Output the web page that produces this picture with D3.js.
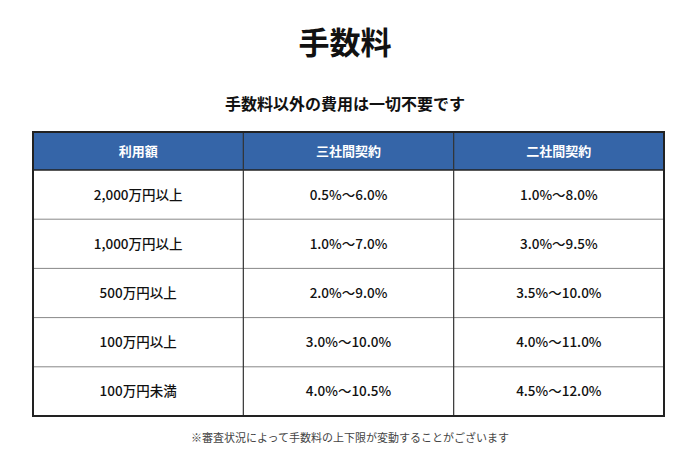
<!DOCTYPE html><html><head><meta charset="utf-8"><script src="https://cdn.jsdelivr.net/npm/d3@7"></script>
<style>body{margin:0;background:#fff}</style></head><body><svg id="c" width="690" height="471"></svg>
<script>
const headers=["利用額","三社間契約","二社間契約"];
const categories=["2,000万円以上","1,000万円以上","500万円以上","100万円以上","100万円未満"];
const threeParty=["0.5%〜6.0%","1.0%〜7.0%","2.0%〜9.0%","3.0%〜10.0%","4.0%〜10.5%"];
const twoParty=["1.0%〜8.0%","3.0%〜9.5%","3.5%〜10.0%","4.0%〜11.0%","4.5%〜12.0%"];
const svg=d3.select("#c"),F="'Noto Sans CJK JP','Noto Sans',sans-serif";
svg.append("text").attr("x",345).attr("y",54).attr("text-anchor","middle").attr("font-family",F).attr("font-weight",700).attr("font-size",31).attr("fill","#111").text("手数料");
svg.append("text").attr("x",345).attr("y",110).attr("text-anchor","middle").attr("font-family",F).attr("font-weight",700).attr("font-size",16).attr("fill","#111").text("手数料以外の費用は一切不要です");
const x=d3.scaleBand().domain(d3.range(3)).range([33,664]);
const y=d3.scaleLinear().domain([0,1]).range([170,219.2]);
const g=svg.append("g");
g.append("rect").attr("x",33).attr("y",132).attr("width",631).attr("height",38).attr("fill","#3565a8");
headers.forEach((h,i)=>g.append("text").attr("x",x(i)+x.bandwidth()/2).attr("y",156).attr("text-anchor","middle").attr("font-family",F).attr("font-weight",700).attr("font-size",13).attr("fill","#fff").text(h));
const rows=categories.map((c,i)=>[c,threeParty[i],twoParty[i]]);
rows.forEach((r,i)=>{r.forEach((t,j)=>g.append("text").attr("x",x(j)+x.bandwidth()/2).attr("y",y(i+0.5)+5).attr("text-anchor","middle").attr("font-family",F).attr("font-weight",500).attr("font-size",13.5).attr("fill","#111").text(t));
 if(i>0)g.append("line").attr("x1",33).attr("x2",664).attr("y1",y(i)).attr("y2",y(i)).attr("stroke","#888").attr("stroke-width",1);});
g.append("line").attr("x1",33).attr("x2",664).attr("y1",170).attr("y2",170).attr("stroke","#222").attr("stroke-width",1.5);
[1,2].forEach(j=>g.append("line").attr("x1",x(j)).attr("x2",x(j)).attr("y1",132).attr("y2",416).attr("stroke","#333").attr("stroke-width",1.2));
g.append("rect").attr("x",33).attr("y",132).attr("width",631).attr("height",284).attr("fill","none").attr("stroke","#222").attr("stroke-width",2);
svg.append("text").attr("x",350).attr("y",442).attr("text-anchor","middle").attr("font-family",F).attr("font-size",11).attr("fill","#444").text("※審査状況によって手数料の上下限が変動することがございます");
</script></body></html>
